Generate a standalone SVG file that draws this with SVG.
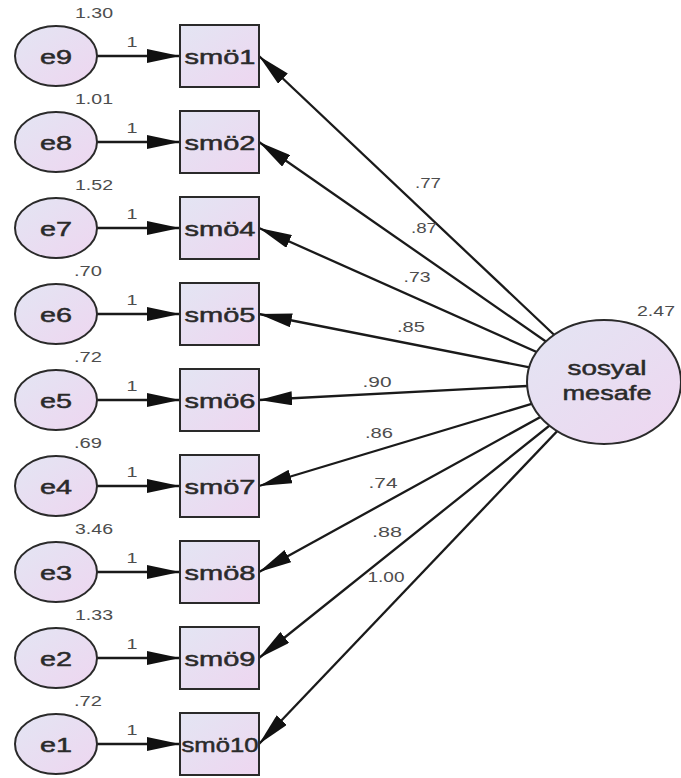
<svg xmlns="http://www.w3.org/2000/svg" width="681" height="778" viewBox="0 0 681 778">
  <style>
    .node { stroke: #2a2a2a; stroke-width: 2; fill: url(#fillGrad); }
    .conn { stroke: #1a1a1a; stroke-width: 2.3; fill: none; marker-end: url(#head); }
    .lbl { font-family: "Liberation Sans", Arial, sans-serif; font-size: 21px; fill: #2a2a2a; stroke: #2a2a2a; stroke-width: 0.5; text-anchor: middle; }
    .num { font-family: "Liberation Sans", Arial, sans-serif; font-size: 14px; fill: #4d4d4d; text-anchor: middle; }
  </style>
  <defs>
    <linearGradient id="fillGrad" x1="0" y1="0" x2="1" y2="1">
      <stop offset="0" stop-color="#e3e5f3"/>
      <stop offset="1" stop-color="#eed6f0"/>
    </linearGradient>
    <marker id="head" markerUnits="userSpaceOnUse" markerWidth="34" markerHeight="14" refX="33" refY="7" orient="auto">
      <path d="M0,0 L33,7 L0,14 Z" fill="#111111"/>
    </marker>
  </defs>

  <rect width="681" height="778" fill="#ffffff"/>

  <!-- connectors: error terms to indicators, and factor loadings -->
  <g id="connectors">
    <line class="conn" x1="97" y1="56" x2="180" y2="56"/>
    <line class="conn" x1="97" y1="142" x2="180" y2="142"/>
    <line class="conn" x1="97" y1="228" x2="180" y2="228"/>
    <line class="conn" x1="97" y1="314" x2="180" y2="314"/>
    <line class="conn" x1="97" y1="400" x2="180" y2="400"/>
    <line class="conn" x1="97" y1="486" x2="180" y2="486"/>
    <line class="conn" x1="97" y1="572" x2="180" y2="572"/>
    <line class="conn" x1="97" y1="658" x2="180" y2="658"/>
    <line class="conn" x1="97" y1="744" x2="180" y2="744"/>

    <line class="conn" x1="604" y1="382" x2="259" y2="56"/>
    <line class="conn" x1="604" y1="382" x2="259" y2="142"/>
    <line class="conn" x1="604" y1="382" x2="259" y2="228"/>
    <line class="conn" x1="604" y1="382" x2="259" y2="314"/>
    <line class="conn" x1="604" y1="382" x2="259" y2="400"/>
    <line class="conn" x1="604" y1="382" x2="259" y2="486"/>
    <line class="conn" x1="604" y1="382" x2="259" y2="572"/>
    <line class="conn" x1="604" y1="382" x2="259" y2="658"/>
    <line class="conn" x1="604" y1="382" x2="259" y2="744"/>

    <!-- regression weights -->
    <text class="num" x="132" y="47" textLength="11" lengthAdjust="spacingAndGlyphs">1</text>
    <text class="num" x="132" y="133" textLength="11" lengthAdjust="spacingAndGlyphs">1</text>
    <text class="num" x="132" y="219" textLength="11" lengthAdjust="spacingAndGlyphs">1</text>
    <text class="num" x="132" y="305" textLength="11" lengthAdjust="spacingAndGlyphs">1</text>
    <text class="num" x="132" y="391" textLength="11" lengthAdjust="spacingAndGlyphs">1</text>
    <text class="num" x="132" y="477" textLength="11" lengthAdjust="spacingAndGlyphs">1</text>
    <text class="num" x="132" y="563" textLength="11" lengthAdjust="spacingAndGlyphs">1</text>
    <text class="num" x="132" y="649" textLength="11" lengthAdjust="spacingAndGlyphs">1</text>
    <text class="num" x="132" y="735" textLength="11" lengthAdjust="spacingAndGlyphs">1</text>

    <text class="num" x="428" y="188" textLength="26" lengthAdjust="spacingAndGlyphs">.77</text>
    <text class="num" x="424" y="233" textLength="26" lengthAdjust="spacingAndGlyphs">.87</text>
    <text class="num" x="417" y="282" textLength="27" lengthAdjust="spacingAndGlyphs">.73</text>
    <text class="num" x="411" y="332" textLength="28" lengthAdjust="spacingAndGlyphs">.85</text>
    <text class="num" x="377" y="387" textLength="29" lengthAdjust="spacingAndGlyphs">.90</text>
    <text class="num" x="379" y="438" textLength="28" lengthAdjust="spacingAndGlyphs">.86</text>
    <text class="num" x="383" y="488" textLength="29" lengthAdjust="spacingAndGlyphs">.74</text>
    <text class="num" x="387" y="537" textLength="30" lengthAdjust="spacingAndGlyphs">.88</text>
    <text class="num" x="386" y="582" textLength="37" lengthAdjust="spacingAndGlyphs">1.00</text>
  </g>

  <!-- error terms -->
  <g id="e9"><ellipse class="node" cx="56" cy="56" rx="41" ry="30"/><text class="lbl" x="56" y="64" textLength="32" lengthAdjust="spacingAndGlyphs">e9</text><text class="num" x="94" y="18" textLength="38" lengthAdjust="spacingAndGlyphs">1.30</text></g>
  <g id="e8"><ellipse class="node" cx="56" cy="142" rx="41" ry="30"/><text class="lbl" x="56" y="150" textLength="32" lengthAdjust="spacingAndGlyphs">e8</text><text class="num" x="94" y="104" textLength="38" lengthAdjust="spacingAndGlyphs">1.01</text></g>
  <g id="e7"><ellipse class="node" cx="56" cy="228" rx="41" ry="30"/><text class="lbl" x="56" y="236" textLength="32" lengthAdjust="spacingAndGlyphs">e7</text><text class="num" x="94" y="190" textLength="38" lengthAdjust="spacingAndGlyphs">1.52</text></g>
  <g id="e6"><ellipse class="node" cx="56" cy="314" rx="41" ry="30"/><text class="lbl" x="56" y="322" textLength="32" lengthAdjust="spacingAndGlyphs">e6</text><text class="num" x="88" y="276" textLength="28" lengthAdjust="spacingAndGlyphs">.70</text></g>
  <g id="e5"><ellipse class="node" cx="56" cy="400" rx="41" ry="30"/><text class="lbl" x="56" y="408" textLength="32" lengthAdjust="spacingAndGlyphs">e5</text><text class="num" x="88" y="362" textLength="28" lengthAdjust="spacingAndGlyphs">.72</text></g>
  <g id="e4"><ellipse class="node" cx="56" cy="486" rx="41" ry="30"/><text class="lbl" x="56" y="494" textLength="32" lengthAdjust="spacingAndGlyphs">e4</text><text class="num" x="88" y="448" textLength="28" lengthAdjust="spacingAndGlyphs">.69</text></g>
  <g id="e3"><ellipse class="node" cx="56" cy="572" rx="41" ry="30"/><text class="lbl" x="56" y="580" textLength="32" lengthAdjust="spacingAndGlyphs">e3</text><text class="num" x="94" y="534" textLength="38" lengthAdjust="spacingAndGlyphs">3.46</text></g>
  <g id="e2"><ellipse class="node" cx="56" cy="658" rx="41" ry="30"/><text class="lbl" x="56" y="666" textLength="32" lengthAdjust="spacingAndGlyphs">e2</text><text class="num" x="94" y="620" textLength="38" lengthAdjust="spacingAndGlyphs">1.33</text></g>
  <g id="e1"><ellipse class="node" cx="56" cy="744" rx="41" ry="30"/><text class="lbl" x="56" y="752" textLength="32" lengthAdjust="spacingAndGlyphs">e1</text><text class="num" x="88" y="706" textLength="28" lengthAdjust="spacingAndGlyphs">.72</text></g>

  <!-- observed indicators -->
  <g id="smo1"><rect class="node" x="180" y="25" width="79" height="62"/><text class="lbl" x="220" y="64" textLength="71" lengthAdjust="spacingAndGlyphs">smö1</text></g>
  <g id="smo2"><rect class="node" x="180" y="111" width="79" height="62"/><text class="lbl" x="220" y="150" textLength="71" lengthAdjust="spacingAndGlyphs">smö2</text></g>
  <g id="smo4"><rect class="node" x="180" y="197" width="79" height="62"/><text class="lbl" x="220" y="236" textLength="71" lengthAdjust="spacingAndGlyphs">smö4</text></g>
  <g id="smo5"><rect class="node" x="180" y="283" width="79" height="62"/><text class="lbl" x="220" y="322" textLength="71" lengthAdjust="spacingAndGlyphs">smö5</text></g>
  <g id="smo6"><rect class="node" x="180" y="369" width="79" height="62"/><text class="lbl" x="220" y="408" textLength="71" lengthAdjust="spacingAndGlyphs">smö6</text></g>
  <g id="smo7"><rect class="node" x="180" y="455" width="79" height="62"/><text class="lbl" x="220" y="494" textLength="71" lengthAdjust="spacingAndGlyphs">smö7</text></g>
  <g id="smo8"><rect class="node" x="180" y="541" width="79" height="62"/><text class="lbl" x="220" y="580" textLength="71" lengthAdjust="spacingAndGlyphs">smö8</text></g>
  <g id="smo9"><rect class="node" x="180" y="627" width="79" height="62"/><text class="lbl" x="220" y="666" textLength="71" lengthAdjust="spacingAndGlyphs">smö9</text></g>
  <g id="smo10"><rect class="node" x="180" y="713" width="79" height="62"/><text class="lbl" x="220" y="752" textLength="77" lengthAdjust="spacingAndGlyphs">smö10</text></g>

  <!-- latent factor -->
  <g id="sosyal-mesafe">
    <ellipse class="node" cx="604" cy="382" rx="77" ry="62"/>
    <text class="lbl" x="607" y="375" textLength="79" lengthAdjust="spacingAndGlyphs">sosyal</text>
    <text class="lbl" x="607" y="400" textLength="89" lengthAdjust="spacingAndGlyphs">mesafe</text>
    <text class="num" x="656" y="316" textLength="38" lengthAdjust="spacingAndGlyphs">2.47</text>
  </g>
</svg>
